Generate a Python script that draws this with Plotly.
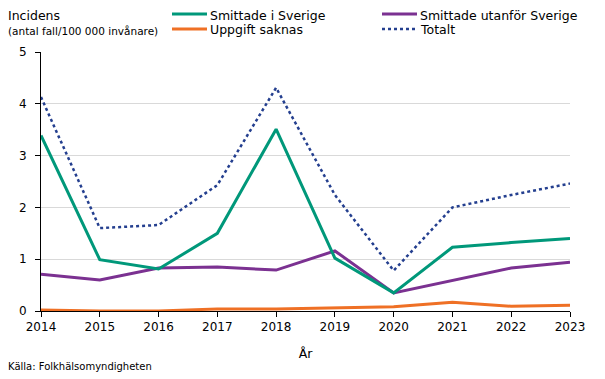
import plotly.graph_objects as go

years = [2014, 2015, 2016, 2017, 2018, 2019, 2020, 2021, 2022, 2023]
smittade_sverige = [3.39, 0.99, 0.81, 1.50, 3.51, 1.02, 0.35, 1.23, 1.32, 1.40]
smittade_utanfor = [0.71, 0.60, 0.83, 0.85, 0.79, 1.16, 0.35, 0.59, 0.83, 0.94]
uppgift_saknas = [0.02, 0.00, 0.00, 0.04, 0.04, 0.06, 0.08, 0.17, 0.09, 0.11]
totalt = [4.13, 1.60, 1.66, 2.43, 4.31, 2.24, 0.78, 2.00, 2.24, 2.46]
y_ticks = [0, 1, 2, 3, 4, 5]

GREEN = "#00987a"
PURPLE = "#7b3191"
ORANGE = "#ef7025"
NAVY = "#243f8f"
FONT = "DejaVu Sans"

# page body has an 8px margin; figure is sized to compensate
OFF = 8
PL, PT, PW, PH = 41, 52, 529, 259  # plot area in window pixels

series = [
    ("Uppgift saknas", uppgift_saknas, ORANGE, "solid", 3),
    ("Smittade utanför Sverige", smittade_utanfor, PURPLE, "solid", 3),
    ("Smittade i Sverige", smittade_sverige, GREEN, "solid", 3),
    ("Totalt", totalt, NAVY, "dot", 2.5),
]

fig = go.Figure()
for name, vals, color, dash, w in series:
    fig.add_trace(go.Scatter(x=years, y=vals, mode="lines", name=name,
                             line=dict(color=color, width=w, dash=dash),
                             showlegend=False, cliponaxis=False))

W, H = 605 - OFF, 379 - OFF
fig.update_layout(
    width=W, height=H,
    margin=dict(l=PL - OFF, r=W - (PL - OFF) - PW, t=PT - OFF, b=H - (PT - OFF) - PH),
    paper_bgcolor="white", plot_bgcolor="white",
    font=dict(family=FONT, size=12, color="#000000"),
    xaxis=dict(range=[2014, 2023], tickmode="array", tickvals=years,
               ticks="outside", ticklen=5, tickcolor="black",
               showline=True, linecolor="black", linewidth=1,
               showgrid=False, zeroline=False,
               tickfont=dict(family=FONT, size=12),
               title=dict(text="År", font=dict(family=FONT, size=12.5), standoff=15)),
    yaxis=dict(range=[0, 5], tickmode="array", tickvals=y_ticks,
               ticks="outside", ticklen=5, tickcolor="black",
               showline=True, linecolor="black", linewidth=1,
               showgrid=True, gridcolor="#d9d9d9", gridwidth=1,
               zeroline=False, tickfont=dict(family=FONT, size=12),
               ticklabelstandoff=6),
)

def px2x(px):
    return (px - PL) / PW

def py2y(py):
    return (PT + PH - py) / PH

# Y axis title (two lines, top-left)
fig.add_annotation(xref="paper", yref="paper", x=px2x(6), y=py2y(15),
                   xanchor="left", yanchor="middle", showarrow=False,
                   text="Incidens", font=dict(family=FONT, size=12.5))
fig.add_annotation(xref="paper", yref="paper", x=px2x(6), y=py2y(30.5),
                   xanchor="left", yanchor="middle", showarrow=False,
                   text="(antal fall/100 000 invånare)", font=dict(family=FONT, size=10.5))
# Source
fig.add_annotation(xref="paper", yref="paper", x=px2x(6), y=py2y(366),
                   xanchor="left", yanchor="middle", showarrow=False,
                   text="Källa: Folkhälsomyndigheten", font=dict(family=FONT, size=10))

# Manual legend
legend_items = [
    ("Smittade i Sverige", GREEN, "solid", 3, 172, 14),
    ("Smittade utanför Sverige", PURPLE, "solid", 3, 382, 14),
    ("Uppgift saknas", ORANGE, "solid", 3, 172, 29),
    ("Totalt", NAVY, "dot", 2.5, 382, 29),
]
for name, color, dash, w, lx, ly in legend_items:
    fig.add_shape(type="line", xref="paper", yref="paper",
                  x0=px2x(lx), x1=px2x(lx + 35),
                  y0=py2y(ly), y1=py2y(ly),
                  line=dict(color=color, width=w, dash=dash))
    fig.add_annotation(xref="paper", yref="paper", x=px2x(lx + 37), y=py2y(ly + 1),
                       xanchor="left", yanchor="middle", showarrow=False,
                       borderpad=0,
                       text=name, font=dict(family=FONT, size=12.5))

fig.write_html("out.html")
